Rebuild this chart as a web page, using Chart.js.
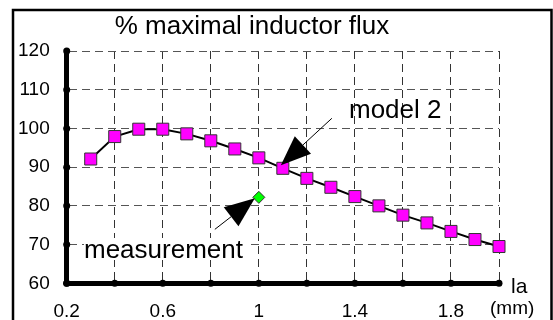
<!DOCTYPE html>
<html>
<head>
<meta charset="utf-8">
<script src="https://cdn.jsdelivr.net/npm/chart.js@4.4.1/dist/chart.umd.min.js"></script>
<style>
  html, body { margin: 0; padding: 0; background: #fff; }
  #wrap { position: relative; width: 553px; height: 320px; }
</style>
</head>
<body>
<div id="wrap"><canvas id="fluxChart"></canvas></div>
<script>
// values
const laValues = [0.3, 0.4, 0.5, 0.6, 0.7, 0.8, 0.9, 1.0, 1.1, 1.2, 1.3, 1.4, 1.5, 1.6, 1.7, 1.8, 1.9, 2.0];
const model2Flux = [92.1, 97.9, 99.8, 99.8, 98.6, 96.8, 94.7, 92.4, 89.7, 87.1, 84.8, 82.4, 80.0, 77.6, 75.6, 73.4, 71.3, 69.5];
const measurementLa = [1.0];
const measurementFlux = [82.2];
const xGrid = [0.2, 0.4, 0.6, 0.8, 1.0, 1.2, 1.4, 1.6, 1.8, 2.0];
const xTicks = [0.2, 0.6, 1, 1.4, 1.8];
const yGrid = [60, 70, 80, 90, 100, 110, 120];

const FONT = "'Liberation Sans', Arial, sans-serif";

function toPoints(xs, ys) {
    return xs.map((x, i) => ({ x: x, y: ys[i] }));
}

function drawArrow(ctx, tail, tip, headLen, headHalf) {
    const dx = tip.x - tail.x;
    const dy = tip.y - tail.y;
    const len = Math.sqrt(dx * dx + dy * dy);
    const ux = dx / len, uy = dy / len;
    const bx = tip.x - ux * headLen, by = tip.y - uy * headLen;
    ctx.beginPath();
    ctx.moveTo(tail.x, tail.y);
    ctx.lineTo(bx, by);
    ctx.strokeStyle = "#000";
    ctx.lineWidth = 1;
    ctx.setLineDash([]);
    ctx.stroke();
    ctx.beginPath();
    ctx.moveTo(tip.x, tip.y);
    ctx.lineTo(bx - uy * headHalf, by + ux * headHalf);
    ctx.lineTo(bx + uy * headHalf, by - ux * headHalf);
    ctx.closePath();
    ctx.fillStyle = "#000";
    ctx.fill();
}

// frame, title, axis dots, arrows and labels
const decorations = {
    id: "decorations",
    beforeDraw(chart) {
        const ctx = chart.ctx;
        ctx.save();
        ctx.strokeStyle = "#000";
        ctx.lineWidth = 2.5;
        ctx.beginPath();
        ctx.moveTo(13, 320);
        ctx.lineTo(13, 10);
        ctx.lineTo(551.5, 10);
        ctx.lineTo(551.5, 320);
        ctx.stroke();
        ctx.restore();
    },
    afterDraw(chart) {
        const ctx = chart.ctx;
        const xs = chart.scales.x;
        const ys = chart.scales.y;
        const area = chart.chartArea;
        ctx.save();

        // title
        ctx.fillStyle = "#000";
        ctx.font = "26px " + FONT;
        ctx.textAlign = "center";
        ctx.textBaseline = "alphabetic";
        ctx.fillText("% maximal inductor flux", 252, 34);

        // dots on the axes
        xGrid.forEach(v => {
            ctx.beginPath();
            ctx.arc(xs.getPixelForValue(v), area.bottom, 3.5, 0, Math.PI * 2);
            ctx.fill();
        });
        yGrid.forEach(v => {
            ctx.beginPath();
            ctx.arc(area.left, ys.getPixelForValue(v), 3.5, 0, Math.PI * 2);
            ctx.fill();
        });

        // axis name
        ctx.textAlign = "left";
        ctx.font = "21px " + FONT;
        ctx.fillText("la", 511, 293);
        ctx.font = "19px " + FONT;
        ctx.fillText("(mm)", 490, 314);

        // model 2 arrow
        const m = chart.getDatasetMeta(0).data[8];
        const mTip = { x: m.x - 2, y: m.y - 3 };
        drawArrow(ctx, { x: mTip.x + 51, y: mTip.y - 47 }, mTip, 30, 12);
        ctx.font = "26px " + FONT;
        ctx.fillStyle = "#000";
        ctx.fillText("model 2", 349, 118);

        // measurement arrow
        const p = chart.getDatasetMeta(1).data[0];
        const pTip = { x: p.x - 4, y: p.y + 1 };
        drawArrow(ctx, { x: pTip.x - 40, y: pTip.y + 31 }, pTip, 30, 12);
        ctx.fillStyle = "#fff";
        ctx.fillRect(84, 238, 162, 22);
        ctx.fillStyle = "#000";
        ctx.fillText("measurement", 84, 258);

        ctx.restore();
    }
};

new Chart(document.getElementById("fluxChart").getContext("2d"), {
    type: "scatter",
    data: {
        datasets: [
            {
                label: "model 2",
                data: toPoints(laValues, model2Flux),
                showLine: true,
                borderColor: "#000",
                borderWidth: 2,
                pointStyle: "rect",
                pointRadius: 8.5,
                pointBackgroundColor: "#ff00ff",
                pointBorderColor: "#333",
                pointBorderWidth: 1,
                clip: false
            },
            {
                label: "measurement",
                data: toPoints(measurementLa, measurementFlux),
                pointStyle: "rectRot",
                pointRadius: 6,
                pointBackgroundColor: "#00ff00",
                pointBorderColor: "#333",
                pointBorderWidth: 1,
                clip: false
            }
        ]
    },
    options: {
        responsive: true,
        maintainAspectRatio: false,
        animation: false,
        layout: { padding: { left: 0, top: 51, right: 54, bottom: 0 } },
        plugins: {
            legend: { display: false },
            tooltip: { enabled: false }
        },
        scales: {
            x: {
                type: "linear",
                min: xGrid[0],
                max: xGrid[xGrid.length - 1],
                afterBuildTicks: function (scale) {
                    scale.ticks = xGrid.map(v => ({ value: v }));
                },
                ticks: {
                    padding: 17,
                    color: "#000",
                    font: { family: FONT, size: 19 },
                    maxRotation: 0,
                    autoSkip: false,
                    callback: function (v) {
                        const r = Math.round(v * 10) / 10;
                        return xTicks.some(t => Math.abs(t - r) < 1e-6) ? String(r) : "";
                    }
                },
                grid: { display: true, color: "#333", lineWidth: 1, drawTicks: false },
                border: { display: true, color: "#000", width: 5, dash: [8, 5] },
                afterFit: function (scale) { scale.height = 36.7; }
            },
            y: {
                type: "linear",
                min: yGrid[0],
                max: yGrid[yGrid.length - 1],
                afterBuildTicks: function (scale) {
                    scale.ticks = yGrid.map(v => ({ value: v }));
                },
                ticks: {
                    padding: 17,
                    color: "#000",
                    font: { family: FONT, size: 19 }
                },
                grid: { display: true, color: "#555", lineWidth: 1, drawTicks: false },
                border: { display: true, color: "#000", width: 5, dash: [8, 5] },
                afterFit: function (scale) { scale.width = 66.7; }
            }
        }
    },
    plugins: [decorations]
});
</script>
</body>
</html>
